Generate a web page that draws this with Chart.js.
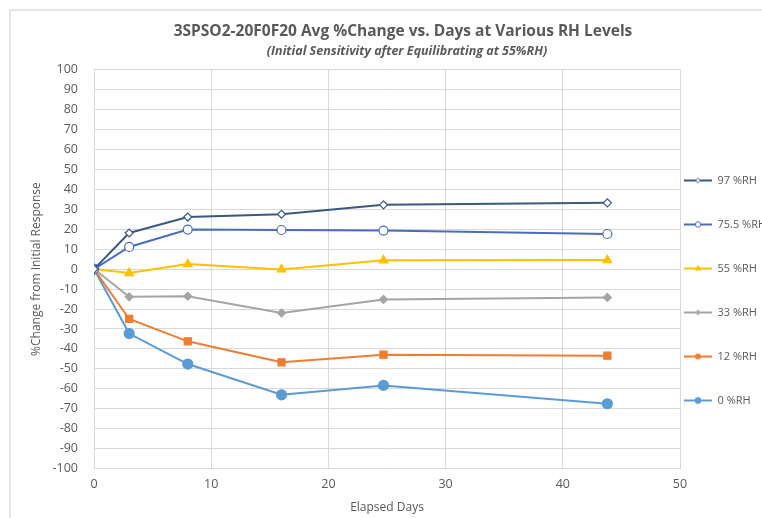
<!DOCTYPE html>
<html>
<head>
<meta charset="utf-8">
<title>3SPSO2-20F0F20 Avg %Change</title>
<script src="https://cdn.jsdelivr.net/npm/chart.js@4/dist/chart.umd.min.js"></script>
<style>
  html, body { margin: 0; padding: 0; background: #fff; }
  .frame {
    position: absolute; left: 9px; top: 9px; width: 800px; height: 560px;
    border-left: 2px solid #e6e6e6; border-top: 2px solid #e6e6e6;
  }
  .pie { position: absolute; left: 0; top: 0; width: 762px; height: 518px; }
</style>
</head>
<body>
<div class="frame"></div>
<div class="pie"><canvas id="myLines" width="762" height="518"></canvas></div>
<script>
/* global Chart */

// elapsed days of each measurement
const days = [0, 3, 8, 16, 24.7, 43.8];

// avg % change from initial response, one list per RH level
const rh97 = [0, 18.1, 26.1, 27.5, 32.2, 33.2];
const rh75 = [0, 11.1, 19.8, 19.6, 19.3, 17.6];
const rh55 = [0, -2.0, 2.5, -0.2, 4.4, 4.5];
const rh33 = [0, -13.9, -13.6, -22.0, -15.2, -14.2];
const rh12 = [0, -25.0, -36.2, -46.7, -42.9, -43.4];
const rh0 = [0, -32.3, -47.6, -63.0, -58.3, -67.5];

const seriesNames = ['97 %RH', '75.5 %RH', '55 %RH', '33 %RH', '12 %RH', '0 %RH'];

const lines = (function () {
  'use strict';

  const ctx = document.getElementById('myLines');
  const textColor = '#595959';
  const gridColor = '#d9d9d9';
  const legendGap = 33;
  let myChart;

  const styles = [
    { color: '#3b587f', point: 'rectRot', radius: 4, fill: '#ffffff' },
    { color: '#4a6cc0', point: 'circle', radius: 4.5, fill: '#ffffff' },
    { color: '#ffc000', point: 'triangle', radius: 5, fill: '#ffc000' },
    { color: '#a5a5a5', point: 'rectRot', radius: 4, fill: '#a5a5a5' },
    { color: '#ed7d31', point: 'rect', radius: 5, fill: '#ed7d31' },
    { color: '#5b9bd5', point: 'circle', radius: 5, fill: '#5b9bd5' }
  ];

  function toPoints (values) {
    let pts = [];
    for (let i = 0; i < values.length; i++) {
      pts.push({ x: days[i], y: values[i] });
    }
    return pts;
  }

  // small line + marker swatch like the excel legend
  function swatch (st) {
    const c = document.createElement('canvas');
    c.width = 28;
    c.height = 10;
    const g = c.getContext('2d');
    g.strokeStyle = st.color;
    g.lineWidth = 2;
    g.beginPath();
    g.moveTo(0, 5);
    g.lineTo(28, 5);
    g.stroke();
    g.fillStyle = st.fill;
    g.strokeStyle = st.color;
    g.lineWidth = 1;
    Chart.helpers.drawPoint(g, { pointStyle: st.point, radius: st.radius * 0.6, borderWidth: 1 }, 14, 5);
    return c;
  }

  // nudge titles and legend the way excel placed them
  const placeBoxes = {
    id: 'placeBoxes',
    afterLayout (chart) {
      chart.boxes.forEach(function (b) {
        if (b.options && typeof b.options.text === 'string' && b.options.text !== '') {
          const shift = b === chart.titleBlock ? 12 : 16;
          b.left += shift;
          b.right += shift;
        }
      });
      const lg = chart.legend;
      lg.left = chart.chartArea.right + 4 - legendGap;
      lg.right = 762;
      lg.top = 142;
      lg.bottom = 518;
    }
  };

  function init () {
    const allValues = [rh97, rh75, rh55, rh33, rh12, rh0];
    let datasets = [];
    for (let i = 0; i < allValues.length; i++) {
      const st = styles[i];
      datasets.push({
        label: seriesNames[i],
        data: toPoints(allValues[i]),
        borderColor: st.color,
        backgroundColor: st.fill,
        borderWidth: 2,
        pointStyle: st.point,
        pointRadius: st.radius,
        pointBorderWidth: 1.2,
        pointBorderColor: st.color,
        pointBackgroundColor: st.fill,
        tension: 0,
        swatch: swatch(st)
      });
    }

    myChart = new Chart(ctx, {
      type: 'line',
      data: { datasets: datasets },
      plugins: [placeBoxes],
      options: {
        responsive: false,
        animation: false,
        layout: { padding: { left: 24, right: 4, top: 22, bottom: 3 } },
        plugins: {
          title: {
            display: true,
            text: '3SPSO2-20F0F20 Avg %Change vs. Days at Various RH Levels',
            color: textColor,
            font: { family: 'Open Sans', size: 15.5, weight: 'bold' },
            padding: { top: 0, bottom: 3 }
          },
          subtitle: {
            display: true,
            text: '(Initial Sensitivity after Equilibrating at 55%RH)',
            color: textColor,
            font: { family: 'Open Sans', size: 12.5, weight: 'bold', style: 'italic' },
            padding: { top: 0, bottom: 11 }
          },
          legend: {
            position: 'right',
            align: 'start',
            maxWidth: 78,
            labels: {
              usePointStyle: true,
              pointStyleWidth: 28,
              padding: legendGap,
              color: textColor,
              font: { family: 'Open Sans', size: 11 },
              generateLabels (chart) {
                return chart.data.datasets.map(function (ds, i) {
                  return {
                    text: ds.label,
                    pointStyle: ds.swatch,
                    fillStyle: ds.backgroundColor,
                    strokeStyle: ds.borderColor,
                    fontColor: textColor,
                    lineWidth: 0,
                    datasetIndex: i
                  };
                });
              }
            }
          },
          tooltip: { enabled: false }
        },
        scales: {
          x: {
            type: 'linear',
            min: 0,
            max: 50,
            ticks: { stepSize: 10, color: textColor, font: { family: 'Open Sans', size: 12.5 }, padding: 8 },
            grid: { color: gridColor, drawTicks: false },
            border: { color: gridColor },
            title: {
              display: true,
              text: 'Elapsed Days',
              color: textColor,
              font: { family: 'Open Sans', size: 12 },
              padding: { top: 1, bottom: 0 }
            }
          },
          y: {
            min: -100,
            max: 100,
            afterFit (scale) {
              scale.width = 70;
            },
            ticks: { stepSize: 10, color: textColor, font: { family: 'Open Sans', size: 12.5 }, padding: 16 },
            grid: { color: gridColor, drawTicks: false },
            border: { color: gridColor },
            title: {
              display: true,
              text: '%Change from Initial Response',
              color: textColor,
              font: { family: 'Open Sans', size: 12 },
              padding: { top: 5, bottom: 0 }
            }
          }
        }
      }
    });
  }

  return {
    init: init,
    chart: function () { return myChart; }
  };
}());

window.addEventListener('load', lines.init);
</script>
</body>
</html>
